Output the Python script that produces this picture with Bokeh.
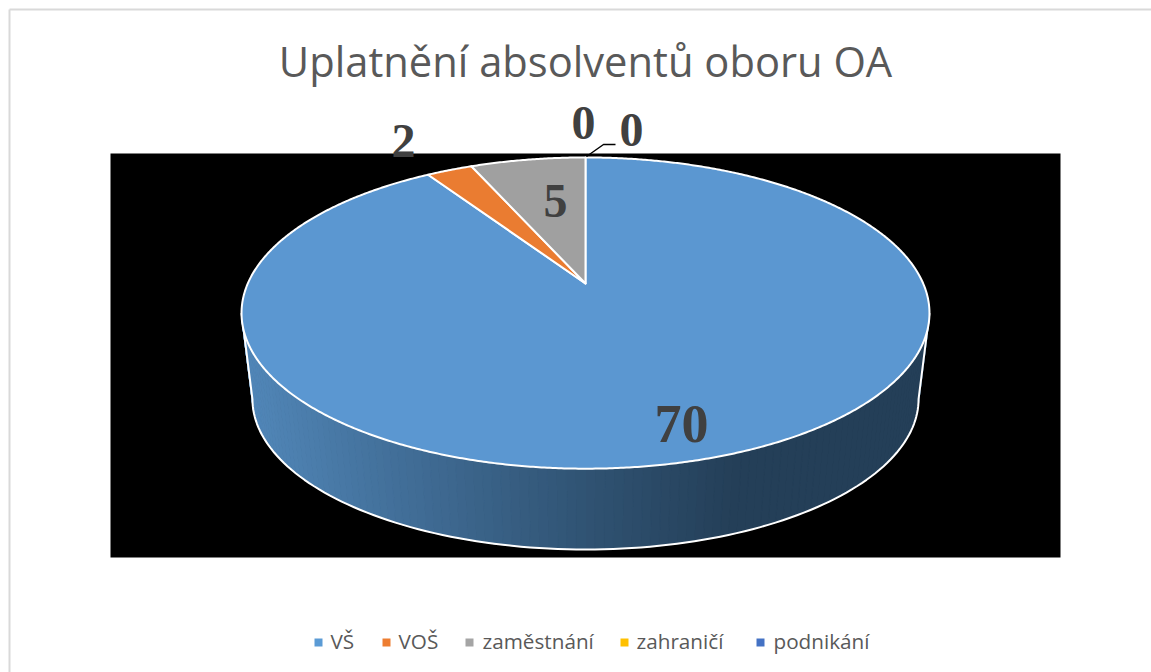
import numpy as np
from bokeh.embed import file_html
from bokeh.resources import INLINE
from bokeh.plotting import figure
from bokeh.models import Range1d
from bokeh.core.properties import value

# ---- data ----
TITLE = "Uplatnění absolventů oboru OA"
CATEGORIES = ["VŠ", "VOŠ", "zaměstnání", "zahraničí", "podnikání"]
VALUES = [70, 2, 5, 0, 0]
COLORS = ["#5b9bd5", "#ed7d31", "#a5a5a5", "#ffc000", "#4472c4"]
SLICE_COLORS = ["#5b97d1", "#ea7c31", "#a0a0a0", "#ffc000", "#4472c4"]

# ---- layout (page pixels) ----
W, H = 1151, 672
CX, CY, F, G, K = 585, 283, 337.7, 150, 0.19   # top disc, perspective
CY2, F2, G2 = 370, 327, 145                     # bottom rim
LABEL_X = [681, 403, 555, 583, 631]
LABEL_Y = [423, 140, 200, 122, 129]
LABEL_SIZE = ["54px", "48px", "48px", "48px", "48px"]
LEG_SQ_X = [318, 386, 469, 624, 760]
LEG_TX_X = [330, 398, 482, 636, 773]
LEG_Y = 642
WALL_X = [245, 400, 585, 730, 930]
WALL_C = [(82, 136, 186), (66, 111, 153), (48, 83, 115), (36, 63, 88), (36, 63, 88)]


def rim(theta, f=F, g=G, c=CY):
    """theta: clockwise from top, radians -> page coordinates"""
    X, Y = np.sin(theta), np.cos(theta)
    w = 1 + K * Y
    return CX + f * X / w, c - g * Y / w


p = figure(width=W, height=H, output_backend="svg", toolbar_location=None,
           x_range=Range1d(0, W), y_range=Range1d(H, 0),
           min_border=0, outline_line_color=None, background_fill_color="white",
           border_fill_color="white")
p.xaxis.visible = False
p.yaxis.visible = False
p.grid.visible = False

# chart frame
p.segment([9, 9], [9, 9], [W, 9], [9, H], line_color="#d9d9d9", line_width=2)

# black plot area
p.quad(left=[110], right=[1060], top=[153], bottom=[557], fill_color="black", line_color=None)

# wall of the disc: front half
start = np.pi / 2 + np.arcsin(K)
th = np.linspace(start, 2 * np.pi - start, 121)
tx, ty = rim(th)
bx, by = rim(th, F2, G2, CY2)
xs, ys, cs = [], [], []
for i in range(len(th) - 1):
    xs.append([tx[i], tx[i + 1], bx[i + 1], bx[i]])
    ys.append([ty[i], ty[i + 1], by[i + 1], by[i]])
    mx = (bx[i] + bx[i + 1]) / 2
    rgb = [int(round(np.interp(mx, WALL_X, [c[j] for c in WALL_C]))) for j in range(3)]
    cs.append("#%02x%02x%02x" % tuple(rgb))
p.patches(xs, ys, fill_color=cs, line_color=cs, line_width=1)
p.line(list(tx[:1]) + list(bx) + list(tx[-1:]), list(ty[:1]) + list(by) + list(ty[-1:]),
       line_color="white", line_width=2, line_join="round")

# top disc slices, clockwise from 12 o'clock, first slice first
total = sum(VALUES)
angle = 0.0
for v, col in zip(VALUES, SLICE_COLORS):
    if v == 0:
        continue
    sweep = v / total * 2 * np.pi
    t = np.linspace(angle, angle + sweep, max(int(v * 12), 8))
    x, y = rim(t)
    p.patch([CX] + list(x) + [CX], [CY] + list(y) + [CY], fill_color=col,
            line_color="white", line_width=2, line_join="round")
    angle += sweep

# leader line of the last label
p.line([586, 603, 615], [156, 144, 144], line_color="black", line_width=1.5)

# data labels
p.text(LABEL_X, LABEL_Y, text=[str(v) for v in VALUES],
       text_font=value("Liberation Serif"), text_font_style="bold",
       text_font_size=LABEL_SIZE, text_color="#404040",
       text_align="center", text_baseline="middle")

# title
p.text([585], [60], text=[TITLE], text_font=value("Open Sans"), text_font_size="41.7px",
       text_color="#595959", text_align="center", text_baseline="middle")

# legend
p.rect(LEG_SQ_X, [LEG_Y] * 5, width=8, height=8, fill_color=COLORS, line_color=None)
p.text(LEG_TX_X, [LEG_Y - 2] * 5, text=CATEGORIES, text_font=value("Open Sans"),
       text_font_size="20.7px", text_color="#595959", text_align="left",
       text_baseline="middle")

open("out.html", "w").write(file_html(p, INLINE))
